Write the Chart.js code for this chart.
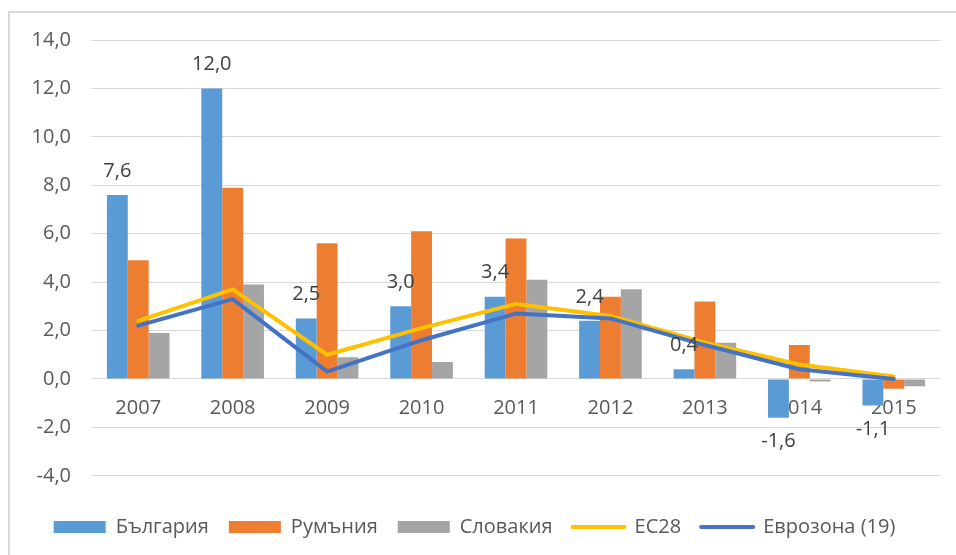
<!DOCTYPE html>
<html>
<head>
<meta charset="utf-8">
<script src="https://cdn.jsdelivr.net/npm/chart.js@4/dist/chart.umd.min.js"></script>
<style>
  html, body { margin: 0; padding: 0; background: #ffffff; }
  #wrap { position: relative; width: 956px; height: 555px; overflow: hidden; }
  #frameTop { position: absolute; left: 8px; top: 11px; width: 960px; height: 2px; background: #d9d9d9; }
  #frameLeft { position: absolute; left: 8px; top: 11px; width: 2px; height: 560px; background: #d9d9d9; }
  canvas { position: absolute; left: 0; top: 0; }
</style>
</head>
<body>
<div id="wrap">
  <canvas id="c" width="956" height="555"></canvas>
  <div id="frameTop"></div>
  <div id="frameLeft"></div>
</div>
<script>
const years = ['2007', '2008', '2009', '2010', '2011', '2012', '2013', '2014', '2015'];
const bulgaria = [7.6, 12.0, 2.5, 3.0, 3.4, 2.4, 0.4, -1.6, -1.1];
const romania = [4.9, 7.9, 5.6, 6.1, 5.8, 3.4, 3.2, 1.4, -0.4];
const slovakia = [1.9, 3.9, 0.9, 0.7, 4.1, 3.7, 1.5, -0.1, -0.3];
const eu28 = [2.4, 3.7, 1.0, 2.1, 3.1, 2.6, 1.5, 0.6, 0.1];
const eurozone = [2.2, 3.3, 0.3, 1.6, 2.7, 2.5, 1.4, 0.4, 0.0];
const seriesNames = ['България', 'Румъния', 'Словакия', 'ЕС28', 'Еврозона (19)'];
const yMin = -4, yMax = 14, yStep = 2;

const FONT = '"Open Sans", "Noto Sans", sans-serif';
const fmt = v => v.toFixed(1).replace('.', ',');

const barLabels = {
  id: 'barLabels',
  afterDatasetsDraw(chart) {
    const ctx = chart.ctx;
    const meta = chart.getDatasetMeta(0);
    const yScale = chart.scales.y;
    ctx.save();
    ctx.font = '20px ' + FONT;
    ctx.fillStyle = '#404040';
    ctx.textAlign = 'center';
    ctx.textBaseline = 'middle';
    meta.data.forEach((bar, i) => {
      const v = bulgaria[i];
      const yEnd = yScale.getPixelForValue(v);
      const y = v >= 0 ? yEnd - 24 : yEnd + 24;
      ctx.fillText(fmt(v), bar.x, y);
    });
    ctx.restore();
  }
};

new Chart(document.getElementById('c'), {
  type: 'bar',
  data: {
    labels: years,
    datasets: [
      { label: seriesNames[0], data: bulgaria, backgroundColor: '#5B9BD5', order: 2,
        categoryPercentage: 0.663, barPercentage: 1.0 },
      { label: seriesNames[1], data: romania, backgroundColor: '#ED7D31', order: 2,
        categoryPercentage: 0.663, barPercentage: 1.0 },
      { label: seriesNames[2], data: slovakia, backgroundColor: '#A5A5A5', order: 2,
        categoryPercentage: 0.663, barPercentage: 1.0 },
      { label: seriesNames[3], data: eu28, type: 'line', borderColor: '#FFC000', backgroundColor: '#FFC000',
        borderWidth: 4, pointRadius: 0, tension: 0, order: 1, borderCapStyle: 'round', borderJoinStyle: 'round' },
      { label: seriesNames[4], data: eurozone, type: 'line', borderColor: '#4472C4', backgroundColor: '#4472C4',
        borderWidth: 4, pointRadius: 0, tension: 0, order: 0, borderCapStyle: 'round', borderJoinStyle: 'round' }
    ]
  },
  options: {
    responsive: false,
    animation: false,
    devicePixelRatio: 1,
    layout: { padding: { left: 8, right: 15, top: 40, bottom: 8 } },
    scales: {
      x: {
        position: { y: 0 },
        grid: { display: false, drawTicks: false },
        border: { display: false },
        ticks: { color: '#595959', font: { family: FONT, size: 20 }, padding: 17, maxRotation: 0 }
      },
      y: {
        min: yMin, max: yMax,
        afterFit(scale) { scale.width = 83; },
        grid: { color: '#d9d9d9', lineWidth: 1, drawTicks: false },
        border: { display: false },
        ticks: { stepSize: yStep, color: '#595959', font: { family: FONT, size: 20 }, padding: 20,
          callback: v => fmt(v) }
      }
    },
    plugins: {
      tooltip: { enabled: false },
      legend: {
        position: 'bottom',
        title: { display: true, text: ' ', font: { size: 1 }, padding: { top: 20, bottom: 0 } },
        labels: {
          color: '#595959',
          font: { family: FONT, size: 20 },
          usePointStyle: true,
          pointStyleWidth: 52,
          boxHeight: 12,
          padding: 20,
          generateLabels(chart) {
            const items = Chart.defaults.plugins.legend.labels.generateLabels(chart);
            items.sort((a, b) => a.datasetIndex - b.datasetIndex);
            items.forEach(it => {
              const ds = chart.data.datasets[it.datasetIndex];
              if (ds.type === 'line') {
                it.pointStyle = 'line';
                it.lineWidth = 4;
                it.lineCap = 'round';
                it.strokeStyle = ds.borderColor;
                it.fillStyle = ds.borderColor;
              } else {
                it.pointStyle = 'rect';
                it.lineWidth = 0;
                it.fillStyle = ds.backgroundColor;
              }
            });
            return items;
          }
        }
      }
    }
  },
  plugins: [barLabels]
});
</script>
</body>
</html>
